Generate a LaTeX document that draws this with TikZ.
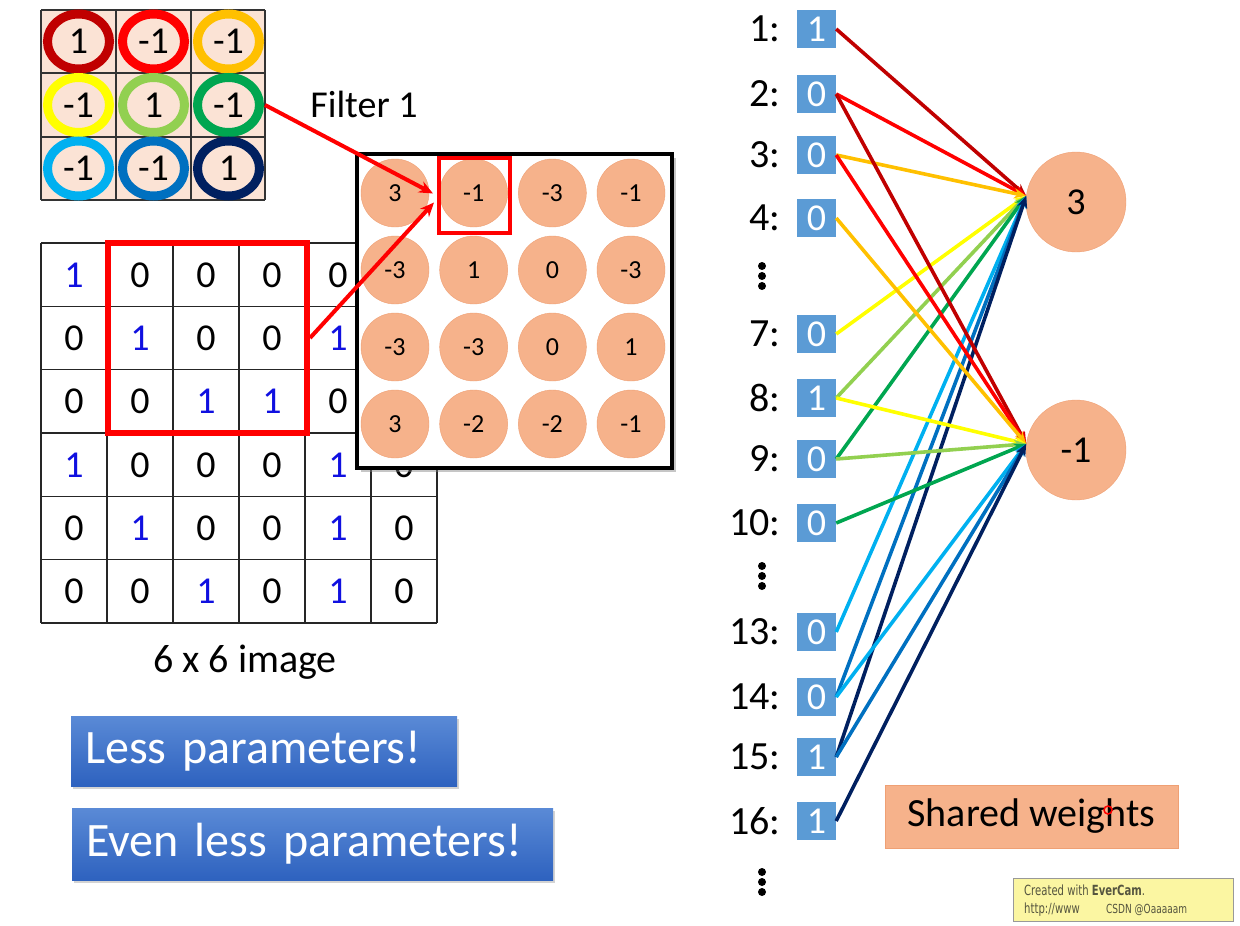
\documentclass[tikz,border=0pt]{standalone}
\usepackage{fontspec}
\setmainfont{Carlito}
\newfontfamily\wmfont{DejaVu Sans}
\usetikzlibrary{arrows.meta, positioning, calc, shadows}
\definecolor{DarkRed}{HTML}{C00000}
\definecolor{BrightRed}{HTML}{FF0000}
\definecolor{Amber}{HTML}{FFC000}
\definecolor{Lemon}{HTML}{FFFF00}
\definecolor{LightGreen}{HTML}{92D050}
\definecolor{DeepGreen}{HTML}{00A650}
\definecolor{SkyBlue}{HTML}{00B0F0}
\definecolor{MidBlue}{HTML}{0070C0}
\definecolor{Navy}{HTML}{002060}
\definecolor{Peach}{HTML}{FBE3D5}
\definecolor{Salmon}{HTML}{F6B28B}
\definecolor{SalmonEdge}{HTML}{EFA074}
\definecolor{InBlue}{HTML}{5B9BD5}
\definecolor{BtnTop}{HTML}{5A8AD6}
\definecolor{BtnBot}{HTML}{2E62BF}
\definecolor{OneBlue}{HTML}{1010E0}
\definecolor{WmYellow}{HTML}{FBF6A2}
\definecolor{WmText}{HTML}{55553F}

\begin{document}
\begin{tikzpicture}[>=Stealth, x=1pt, y=-1pt,
    bignum/.style={font=\fontsize{38}{40}\selectfont, inner sep=0pt},
    fmnum/.style={circle, minimum size=68pt, inner sep=0pt, fill=Salmon, draw=SalmonEdge,
        font=\fontsize{26}{28}\selectfont},
    inbox/.style={fill=InBlue, text=white, minimum width=39pt, minimum height=38pt, inner sep=0pt,
        font=\fontsize{38}{40}\selectfont},
    inlabel/.style={font=\fontsize{40}{42}\selectfont, inner sep=1pt},
    neuron/.style={circle, minimum size=100pt, fill=Salmon, draw=SalmonEdge, font=\fontsize{38}{40}\selectfont},
    button/.style={top color=BtnTop, bottom color=BtnBot, text=white, align=left, inner xsep=14pt,
        font=\fontsize{48}{50}\selectfont, drop shadow={opacity=0.35, shadow xshift=2pt, shadow yshift=-3pt}},
    wmline/.style={anchor=west, text=WmText, inner sep=0pt},
    wire/.style={->, line width=3.6pt, >={Stealth[length=12pt, width=10pt]}},
    redarrow/.style={->, BrightRed, line width=4pt, >={Stealth[length=14pt, width=12pt]}}]
\useasboundingbox (0,0) rectangle (1240,926);

% Filter 1
\fill [Peach] (41,10) rectangle (265,200);
\foreach \x in {41,116,191,265} \draw [line width=1.2pt, black!80] (\x,10) -- (\x,200);
\foreach \y in {10,73,137,200} \draw [line width=1.2pt, black!80] (41,\y) -- (265,\y);
\foreach \v/\c [count=\i from 0] in {1/DarkRed, -1/BrightRed, -1/Amber, -1/Lemon, 1/LightGreen, -1/DeepGreen, -1/SkyBlue, -1/MidBlue, 1/Navy}{
    \pgfmathsetmacro\cx{78.5+75*mod(\i,3)}
    \pgfmathsetmacro\cy{41.5+63.5*int(\i/3)}
    \draw [\c, line width=9pt] (\cx,\cy) ellipse [x radius=31, y radius=27.5];
    \node [bignum] (f\i) at (\cx,\cy) {\v};
}
\node [font=\fontsize{38}{40}\selectfont] (ftitle) at (364,104) {Filter 1};
\coordinate (fout) at (265,105);

% 6 x 6 image (column 6 of the first three rows lies under the feature map)
\foreach \x in {41,107,...,437} \draw [line width=1.5pt, black!85] (\x,243) -- (\x,623);
\foreach \k in {0,...,6} \draw [line width=1.5pt, black!85] (41,243+63.33*\k) -- (437,243+63.33*\k);
\foreach \row [count=\r from 0] in {{1,0,0,0,0,},{0,1,0,0,1,},{0,0,1,1,0,},{1,0,0,0,1,0},{0,1,0,0,1,0},{0,0,1,0,1,0}}{
    \foreach \v [count=\c from 0] in \row {
        \ifx\v\empty\else
        \ifnum\v=1 \def\col{OneBlue}\else\def\col{black}\fi
        \node [bignum, text=\col] (g\r\c) at (74+66*\c, 275+63.33*\r) {\v};
        \fi
    }
}
\node [draw=BrightRed, line width=6pt, minimum width=199pt, minimum height=190pt] (win) at (207.5,338) {};
\node [font=\fontsize{40}{42}\selectfont] (imgcap) at (245,662) {6 x 6 image};

% Feature map
\node [draw, fill=white, line width=4pt, minimum width=315pt, minimum height=314pt,
    drop shadow={opacity=0.45, shadow xshift=4pt, shadow yshift=-4pt}] (fmap) at (514.5,311) {};
\foreach \v [count=\i from 0] in {3,-1,-3,-1,-3,1,0,-3,-3,-3,0,1,3,-2,-2,-1}{
    \node [fmnum] (m\i) at ({395+78.67*mod(\i,4)}, {193+77*int(\i/4)}) {\v};
}
\node [draw=BrightRed, line width=4pt, minimum width=71pt, minimum height=75pt] (sel) at (474.5,195.5) {};
\draw [redarrow] (fout) -- ([xshift=-4pt, yshift=2pt]sel.west);
\draw [redarrow] (win.east) -- ([xshift=-3pt, yshift=-7pt]sel.west);

% Buttons
\node [button, text width=358pt, minimum height=70pt] (less) at (264,751) {Less parameters!};
\node [button, text width=453pt, minimum height=72pt] (evenless) at (312.5,844) {Even less parameters!};

% Inputs
\foreach \n/\v/\y in {1/1/29, 2/0/94, 3/0/155, 4/0/218, 7/0/334, 8/1/398, 9/0/459, 10/0/523, 13/0/632, 14/0/697, 15/1/757, 16/1/821}{
    \node [inbox] (in\n) at (816.5,\y) {\v};
    \node [inlabel, left=15pt of in\n] (lab\n) {\n:};
}
\foreach \y in {276,576,882} \foreach \d in {-10,0,10} \fill (762,\y+\d) circle (4);

% Neurons
\node [neuron] (top) at (1076,202) {3};
\node [neuron] (bot) at (1076,450) {-1};

% Shared weights
\foreach \a/\b/\c in {1/top/DarkRed, 2/top/BrightRed, 3/top/Amber, 7/top/Lemon, 8/top/LightGreen, 9/top/DeepGreen,
    13/top/SkyBlue, 14/top/MidBlue, 15/top/Navy, 2/bot/DarkRed, 3/bot/BrightRed, 4/bot/Amber, 8/bot/Lemon,
    9/bot/LightGreen, 10/bot/DeepGreen, 14/bot/SkyBlue, 15/bot/MidBlue, 16/bot/Navy}
    \draw [wire, \c] (in\a.east) -- (\b.173);

\node [fill=Salmon, draw=SalmonEdge, minimum width=293pt, minimum height=63pt, font=\fontsize{40}{42}\selectfont] (shared) at (1031.5,816.5) {Shared weights};
\draw [BrightRed, line width=1.5pt] (1108,810) circle (4);

% Watermark
\node [fill=WmYellow, draw=black!40, line width=1pt, minimum width=220pt, minimum height=43pt] (wm) at (1123,899.5) {};
\node [wmline] (wm1) at (1024,890) {\scalebox{0.72}[1]{\wmfont\fontsize{14}{16}\selectfont Created with \textbf{EverCam}.}};
\node [wmline] (wm2) at (1024,910) {\scalebox{0.72}[1]{\wmfont\fontsize{14}{16}\selectfont http://www}};
\node [wmline] (wm3) at (1106,910) {\scalebox{0.72}[1]{\wmfont\fontsize{12.5}{14}\selectfont CSDN @Oaaaaam}};
\end{tikzpicture}
\end{document}
